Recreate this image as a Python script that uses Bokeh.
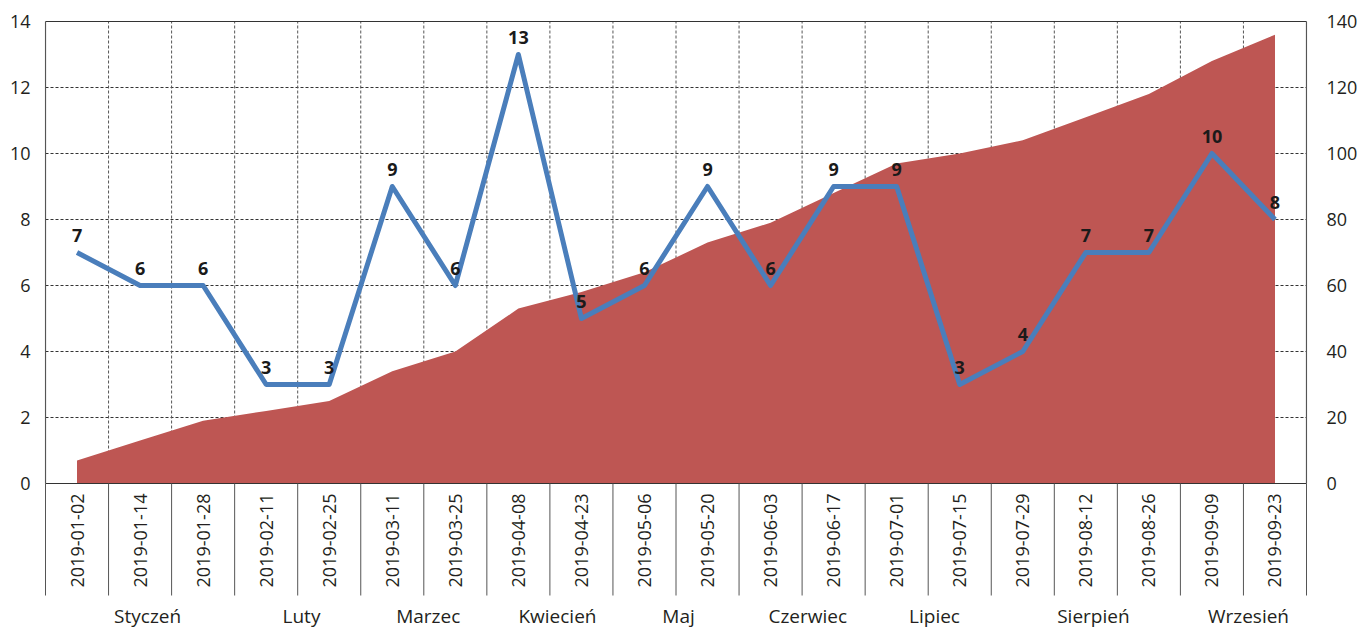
import math
from bokeh.plotting import figure
from bokeh.models import Range1d, LinearAxis, FixedTicker
from bokeh.core.properties import value
from bokeh.embed import file_html
from bokeh.resources import INLINE

# ---------------- data ----------------
dates = ["2019-01-02", "2019-01-14", "2019-01-28", "2019-02-11", "2019-02-25",
         "2019-03-11", "2019-03-25", "2019-04-08", "2019-04-23", "2019-05-06",
         "2019-05-20", "2019-06-03", "2019-06-17", "2019-07-01", "2019-07-15",
         "2019-07-29", "2019-08-12", "2019-08-26", "2019-09-09", "2019-09-23"]
counts = [7, 6, 6, 3, 3, 9, 6, 13, 5, 6, 9, 6, 9, 9, 3, 4, 7, 7, 10, 8]
cumulative = [7, 13, 19, 22, 25, 34, 40, 53, 58, 64, 73, 79, 88, 97, 100,
              104, 111, 118, 128, 136]
months = ["Styczeń", "Luty", "Marzec", "Kwiecień", "Maj", "Czerwiec",
          "Lipiec", "Sierpień", "Wrzesień"]
# month label centres, in category units
month_pos = [1.62, 4.06, 6.07, 8.12, 10.04, 12.09, 14.10, 16.62, 19.08]
left_ticks = [0, 2, 4, 6, 8, 10, 12, 14]
right_ticks = [0, 20, 40, 60, 80, 100, 120, 140]

# ---------------- layout ----------------
FONT = value("Open Sans")
TXT = "#231F20"
PX = 33.0              # pixels per left-axis unit
UX = 63.05             # pixels per category
n = len(dates)
xc = [i + 0.5 for i in range(n)]
y_top = 14 + 1 / PX
y_bot = -148 / PX
sep_bottom = -112 / PX

p = figure(width=1361, height=631,
           min_border_left=44, min_border_right=54,
           min_border_top=20, min_border_bottom=0,
           x_range=Range1d(-1 / UX, n + 1 / UX),
           y_range=Range1d(y_bot, y_top),
           x_axis_location=None,
           output_backend="svg", toolbar_location=None)
p.extra_y_ranges = {"right": Range1d(y_bot * 10, y_top * 10)}
p.outline_line_color = None
p.grid.visible = False
p.background_fill_color = "white"
p.border_fill_color = "white"

# left axis
ya = p.yaxis[0]
ya.ticker = FixedTicker(ticks=left_ticks)
ya.axis_line_color = None
ya.major_tick_line_color = None
ya.minor_tick_line_color = None
ya.major_tick_out = 0
ya.major_tick_in = 0
ya.major_label_standoff = 14
ya.major_label_text_font = "Open Sans"
ya.major_label_text_font_size = "18px"
ya.major_label_text_color = TXT

# right axis
ra = LinearAxis(y_range_name="right", ticker=FixedTicker(ticks=right_ticks))
ra.axis_line_color = None
ra.major_tick_line_color = None
ra.minor_tick_line_color = None
ra.major_tick_out = 0
ra.major_tick_in = 0
ra.major_label_standoff = 19
ra.major_label_text_font = "Open Sans"
ra.major_label_text_font_size = "18px"
ra.major_label_text_color = TXT
p.add_layout(ra, "right")

# dashed grid
hy = left_ticks[1:-1]
p.segment(x0=[0] * len(hy), x1=[n] * len(hy), y0=hy, y1=hy,
          line_color="#333333", line_width=1, line_dash="3 2")
vx = list(range(1, n))
p.segment(x0=vx, x1=vx, y0=[0] * len(vx), y1=[14] * len(vx),
          line_color="#555555", line_width=1, line_dash="3 2")

# cumulative area (right axis)
p.varea(x=xc, y1=[0] * n, y2=cumulative, y_range_name="right",
        fill_color="#BE5653")

# frame box and category separators
p.segment(x0=[0, 0], x1=[n, n], y0=[14, 0], y1=[14, 0],
          line_color="#333333", line_width=1.2)
sx = list(range(0, n + 1))
p.segment(x0=sx, x1=sx, y0=[0] * len(sx), y1=[sep_bottom] * len(sx),
          line_color="#555555", line_width=1)
p.segment(x0=[0, n], x1=[0, n], y0=[0, 0], y1=[14, 14],
          line_color="#555555", line_width=1.2)

# counts line
p.line(xc, counts, line_color="#4A7EBB", line_width=5, line_join="round")
p.text(xc, counts, text=[str(c) for c in counts],
       text_font=FONT, text_font_style="bold", text_font_size="18px",
       text_color="#1A1A1A", text_align="center", text_baseline="alphabetic",
       y_offset=-17)

# category (date) labels
p.text(xc, [-10 / PX] * n, text=dates, angle=math.pi / 2,
       text_font=FONT, text_font_size="18px", text_color=TXT,
       text_align="right", text_baseline="middle")

# month labels
p.text(month_pos, [-132 / PX] * len(months), text=months,
       text_font=FONT, text_font_size="19px", text_color=TXT,
       text_align="center", text_baseline="middle")

open("out.html", "w").write(file_html(p, INLINE))
